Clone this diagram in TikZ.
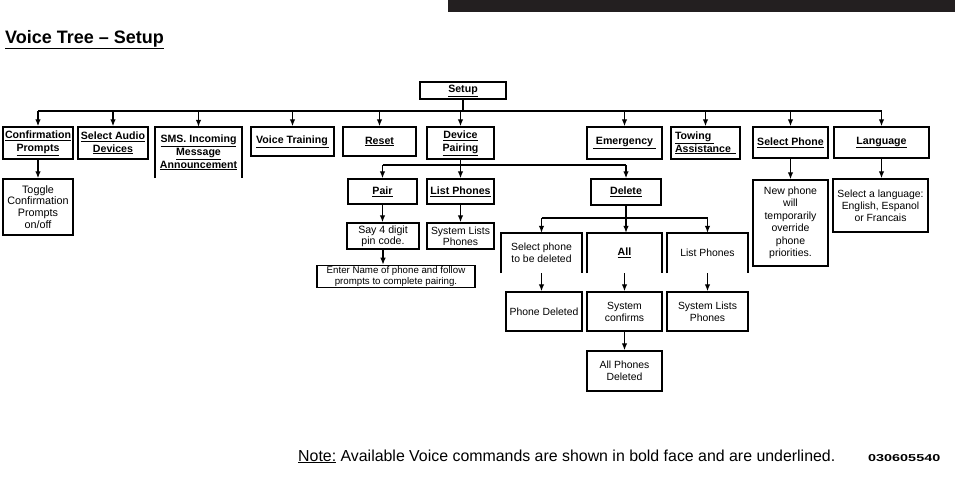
\documentclass[tikz,border=0pt]{standalone}
\usepackage{fontspec}
\usepackage{graphicx}
\setmainfont{Liberation Sans}
\usetikzlibrary{arrows.meta}
\definecolor{barcol}{HTML}{231F20}
\newcommand\fb{\fontsize{10.6}{12.8}\selectfont\bfseries}
\newcommand\fr{\fontsize{10.4}{12}\selectfont}
\newcommand\ul[1]{\underline{#1}}
\newcommand\bx[7]{\node[#1,minimum width={#5-#3},minimum height={#6-#4}] (#2) at ({(#3+#5)/2},{(#4+#6)/2}) {#7};}
\newcommand\openb[1]{\draw[boxline] (#1.south west) -- (#1.north west) -- (#1.north east) -- (#1.south east);}
\begin{document}
\begin{tikzpicture}[x=1pt,y=-1pt,
  boxline/.style={line width=1.5pt},
  box/.style={draw,line width=1.5pt,inner sep=1pt,align=center,font=\fr},
  hbox/.style={box,font=\fb},
  obox/.style={inner sep=1pt,align=center,font=\fr},
  ohbox/.style={obox,font=\fb},
  ln/.style={line width=1.2pt},
  arr/.style={line width=1.2pt,-{Latex[length=7pt,width=5.5pt]}}]
\useasboundingbox (0,0) rectangle (955,493);
\fill[barcol] (448,0) rectangle (955,12);
\node[anchor=base west,inner sep=0,font=\fontsize{18}{21}\selectfont\bfseries] (title) at (5,43) {\ul{Voice Tree – Setup}};

% top level
\bx{hbox}{setup}{420}{82}{506}{99}{\ul{Setup}}
\bx{hbox}{conf}{3}{127}{73}{159}{\ul{Confirmation}\\\ul{Prompts}}
\bx{hbox}{audio}{78}{127}{148}{159}{\ul{Select Audio}\\\ul{Devices}}
\bx{ohbox}{sms}{155}{127}{242}{178}{\ul{SMS. Incoming}\\\ul{Message}\\\ul{Announcement}}
\openb{sms}
\bx{hbox}{voice}{251}{127}{334}{156}{\ul{Voice Training\hspace{1pt}}}
\bx{hbox}{reset}{343}{127}{416}{156}{\ul{Reset}}
\bx{hbox}{dp}{427}{127}{494}{159}{\ul{Device}\\\ul{Pairing}}
\bx{hbox}{emer}{587}{127}{662}{159}{\ul{\hspace{3pt}Emergency\hspace{3pt}}}
\bx{hbox,align=left}{tow}{671}{127}{740}{159}{\ul{Towing\hspace{3pt}}\\\ul{Assistance\hspace{5pt}}}
\bx{hbox}{selph}{753}{127}{828}{158}{\ul{Select Phone}}
\bx{hbox}{lang}{834}{127}{929}{158}{\ul{Language}}

% children of top level
\bx{box,font=\fontsize{10.8}{11.8}\selectfont}{toggle}{3}{179}{73}{235}{Toggle\\Confirmation\\Prompts\\on/off}
\bx{box,font=\fontsize{10.5}{12.5}\selectfont}{newph}{753}{180}{828}{266}{New phone\\will\\temporarily\\override\\phone\\priorities.}
\bx{box}{langc}{833}{179}{928}{232}{Select a language:\\English, Espanol\\or Francais}

% device pairing
\bx{hbox}{pair}{348}{179}{417}{204}{\ul{Pair}}
\bx{hbox}{lph}{427}{179}{494}{204}{\ul{List Phones}}
\bx{box,font=\fontsize{10.6}{11}\selectfont}{say}{347}{223}{419}{249}{Say 4 digit\\pin code.}
\bx{box,font=\fontsize{10.4}{11}\selectfont}{sysl}{427}{223}{494}{249}{System Lists\\Phones}
\bx{box,font=\fontsize{9.7}{11}\selectfont}{enter}{317}{267}{475}{286}{Enter Name of phone and follow\\prompts to complete pairing.}
\bx{hbox}{del}{591}{179}{661}{205}{\ul{Delete}}

% delete
\bx{obox}{selp}{501}{233}{582}{273}{Select phone\\to be deleted}
\openb{selp}
\bx{ohbox}{all}{587}{233}{662}{273}{\ul{All}}
\openb{all}
\bx{obox}{lph2}{667}{233}{748}{273}{List Phones}
\openb{lph2}
\bx{box}{pdel}{506}{292}{582}{331}{Phone Deleted}
\bx{box}{sysc}{587}{292}{662}{331}{System\\confirms}
\bx{box}{sysl2}{667}{292}{748}{331}{System Lists\\Phones}
\bx{box}{allp}{587}{351}{662}{391}{All Phones\\Deleted}

% buses
\coordinate (b1) at (0,111);
\coordinate (b2) at (0,165);
\coordinate (b3) at (0,218);

\draw[ln] (setup.south) -- (setup.south |- b1);
\draw[ln] (conf.north |- b1) -- (lang.north |- b1);
\foreach \n in {conf,audio,sms,voice,reset,dp,emer,tow,selph,lang}
  \draw[arr] (\n.north |- b1) -- (\n.north);

\draw[arr] (conf.south) -- (conf.south |- toggle.north);
\draw[arr] (selph.south) -- (selph.south |- newph.north);
\draw[arr] (lang.south) -- (lang.south |- langc.north);

\draw[ln] (dp.south) -- (dp.south |- b2);
\draw[ln] (pair.north |- b2) -- (del.north |- b2);
\foreach \n in {pair,lph,del}
  \draw[arr] (\n.north |- b2) -- (\n.north);
\draw[arr] (pair.south) -- (pair.south |- say.north);
\draw[arr] (lph.south) -- (lph.south |- sysl.north);
\draw[arr] (say.south) -- (say.south |- enter.north);

\draw[ln] (del.south) -- (del.south |- b3);
\draw[ln] (selp.north |- b3) -- (lph2.north |- b3);
\draw[arr] (selp.north |- b3) -- (selp.north);
\draw[arr] (del.south |- b3) -- (del.south |- all.north);
\draw[arr] (lph2.north |- b3) -- (lph2.north);
\draw[arr] (selp.south) -- (selp.south |- pdel.north);
\draw[arr] (all.south) -- (all.south |- sysc.north);
\draw[arr] (lph2.south) -- (lph2.south |- sysl2.north);
\draw[arr] (sysc.south) -- (sysc.south |- allp.north);

% note
\node[anchor=base west,inner sep=0,font=\fontsize{15.9}{18}\selectfont] (note) at (298,461) {\ul{Note:} Available Voice commands are shown in bold face and are underlined.};
\node[anchor=base west,inner sep=0] (code) at (868,461) {\scalebox{1.44}[1]{\fontsize{10}{12}\selectfont\bfseries 030605540}};
\end{tikzpicture}
\end{document}
